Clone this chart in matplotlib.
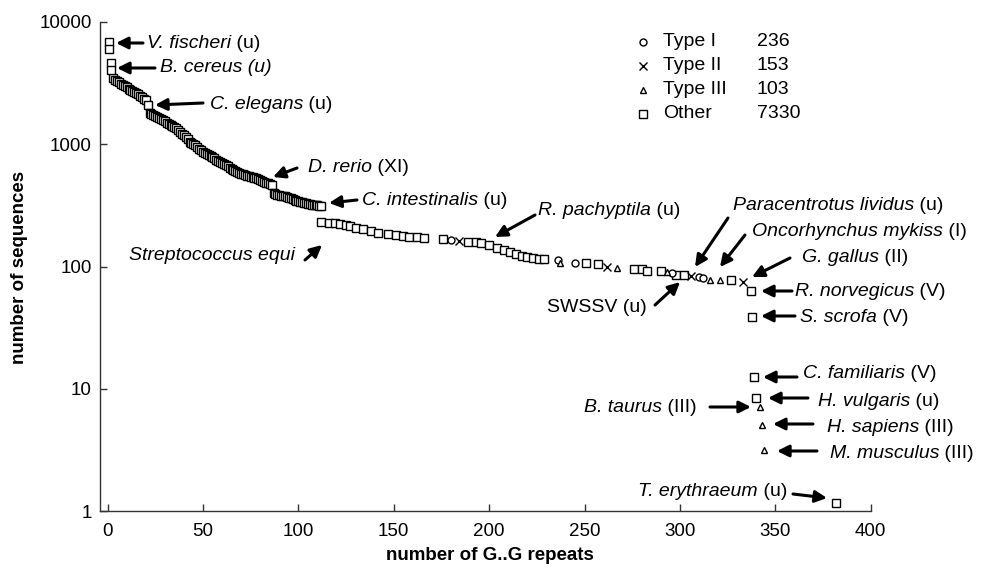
# G..G repeat counts per sequence, log-scaled frequency plot
import matplotlib
matplotlib.use("Agg")
import matplotlib.pyplot as plt
from matplotlib.lines import Line2D

plt.rcParams['font.family'] = ['Liberation Sans', 'DejaVu Sans']

W, H = 987, 571

# "Other" (squares): dense run from 3 to 112 repeats
other_dense_x = list(range(3, 113))
other_dense_y = [3460, 3380, 3300, 3220, 3130, 3050, 2990, 2920, 2850, 2790,
                 2740, 2670, 2610, 2560, 2490, 2420, 2350, 2300, 2090, 1800,
                 1760, 1730, 1700, 1660, 1630, 1600, 1580, 1540, 1500, 1470,
                 1440, 1410, 1380, 1350, 1310, 1270, 1220, 1180, 1140, 1100,
                 1050, 1020, 1000, 980, 950, 920, 895, 870, 850, 835,
                 815, 800, 785, 770, 750, 735, 720, 705, 690, 675,
                 660, 645, 630, 615, 600, 592, 584, 576, 568, 561,
                 554, 547, 540, 535, 530, 526, 518, 510, 502, 494,
                 486, 478, 471, 464, 397, 392, 388, 384, 380, 377,
                 374, 372, 366, 360, 355, 350, 346, 342, 339, 335,
                 331, 328, 325, 322, 320, 318, 317, 316, 315, 313]

# "Other" (squares): sparse points
other_x = [1, 1, 2, 2,
           112, 116, 119, 122, 125, 127, 130, 134, 138, 142, 147, 151, 155, 158, 162, 166,
           176, 189, 193, 196, 200, 204, 208, 211, 214, 217, 220, 223, 226, 229,
           251, 257, 276, 280, 283, 290, 298, 302, 327,
           337, 338, 339, 340, 382]
other_y = [6900, 6000, 4590, 4050,
           233, 227, 225, 222, 219, 213, 208, 201, 195, 188, 184, 181, 178, 175, 173, 170,
           167, 160, 158, 156, 150, 142, 137, 132, 127, 122, 119, 117, 116, 115,
           107, 104, 95.5, 95, 92.5, 92.5, 85.2, 85, 77.6,
           63, 38.8, 12.4, 8.35, 1.17]

type1_x = [180, 236, 245, 296, 310, 312]
type1_y = [165, 113, 107, 88, 81.6, 80]

type2_x = [184, 262, 306, 333]
type2_y = [163, 99.5, 83.6, 75]

type3_x = [237, 267, 293, 316, 321, 342, 343, 344]
type3_y = [107, 97, 89.7, 77.6, 77, 7.05, 5.05, 3.15]

legend_names = ['Type I', 'Type II', 'Type III', 'Other']
legend_counts = ['236', '153', '103', '7330']

# annotations: italic part, plain part, text pos (px), alignment, arrow tail, arrow tip
notes = [
    ('V. fischeri', ' (u)', (147, 43), 'left', (143, 43), (116, 43)),
    ('B. cereus (u)', '', (160, 68), 'left', (155, 68), (117, 68)),
    ('C. elegans', ' (u)', (210, 104), 'left', (203, 103), (155, 105)),
    ('D. rerio', ' (XI)', (308, 167), 'left', (297, 168), (273, 177)),
    ('C. intestinalis', ' (u)', (362, 200), 'left', (357, 200), (329, 203)),
    ('Streptococcus equi', '', (295, 256), 'right', (305, 260), (322, 245)),
    ('R. pachyptila', ' (u)', (538, 211), 'left', (535, 215), (495, 237)),
    ('Paracentrotus lividus', ' (u)', (733, 205), 'left', (728, 218), (695, 267)),
    ('Oncorhynchus mykiss', ' (I)', (752, 231), 'left', (745, 235), (720, 267)),
    ('G. gallus', ' (II)', (802, 258), 'left', (790, 258), (752, 277)),
    ('R. norvegicus', ' (V)', (795, 291), 'left', (792, 291), (761, 291)),
    ('S. scrofa', ' (V)', (800, 318), 'left', (795, 316), (761, 316)),
    ('', 'SWSSV (u)', (647, 308), 'right', (655, 305), (680, 282)),
    ('C. familiaris', ' (V)', (803, 373), 'left', (797, 377), (763, 377)),
    ('H. vulgaris', ' (u)', (818, 402), 'left', (808, 398), (768, 398)),
    ('B. taurus', ' (III)', (697, 407), 'right', (710, 407), (751, 407)),
    ('H. sapiens', ' (III)', (827, 427), 'left', (813, 424), (773, 424)),
    ('M. musculus', ' (III)', (830, 453), 'left', (817, 451), (777, 451)),
    ('T. erythraeum', ' (u)', (787, 492), 'right', (793, 494), (827, 498)),
]

fig = plt.figure(figsize=(W / 100, H / 100), dpi=100)
ax = fig.add_axes([100.3 / W, 1 - 511 / H, 770.4 / W, 489 / H])
renderer = fig.canvas.get_renderer()

sq = dict(marker='s', ms=6, mfc='white', mec='black', mew=1.0, ls='none')
ax.plot(other_dense_x, other_dense_y, **sq)
ax.plot(other_x, other_y, **sq)
ax.plot(type1_x, type1_y, marker='o', ms=5, mfc='white', mec='black', mew=1.0, ls='none')
ax.plot(type2_x, type2_y, marker='x', ms=5.5, mec='black', mew=1.0, ls='none')
ax.plot(type3_x, type3_y, marker='^', ms=5, mfc='white', mec='black', mew=1.0, ls='none')

ax.set_yscale('log')
ax.set_xlim(-3.8, 400)
ax.set_ylim(1, 10000)
ax.set_xticks([0, 50, 100, 150, 200, 250, 300, 350, 400])
ax.set_yticks([1, 10, 100, 1000, 10000])
ax.set_yticklabels(['1', '10', '100', '1000', '10000'])
ax.yaxis.set_minor_locator(matplotlib.ticker.NullLocator())
ax.tick_params(direction='in', length=5, width=1, labelsize=13.5, color='#333333', pad=6)
ax.tick_params(axis='x', pad=9)
for s in ['top', 'right']:
    ax.spines[s].set_visible(False)
for s in ['left', 'bottom']:
    ax.spines[s].set_color('#333333')
    ax.spines[s].set_linewidth(1)

fig.text(20 / W, 1 - 267 / H, 'number of sequences', rotation=90, ha='center', va='center',
         fontsize=13.5, fontweight='bold')
fig.text(490 / W, 1 - 555 / H, 'number of G..G repeats', ha='center', va='center',
         fontsize=13.5, fontweight='bold')

# annotations: italic species name followed by upright type in brackets
for ital, plain, (tx, ty), ha, tail, tip in notes:
    y = 1 - ty / H
    if ha == 'left':
        t = fig.text(tx / W, y, ital, ha='left', va='center', fontsize=14, fontstyle='italic')
        w = t.get_window_extent(renderer).width if ital else 0
        fig.text((tx + w) / W, y, plain, ha='left', va='center', fontsize=14)
    else:
        t = fig.text(tx / W, y, plain, ha='right', va='center', fontsize=14)
        w = t.get_window_extent(renderer).width if plain else 0
        fig.text((tx - w) / W, y, ital, ha='right', va='center', fontsize=14, fontstyle='italic')
    ax.annotate('', xy=(tip[0], H - tip[1]), xytext=(tail[0], H - tail[1]),
                xycoords='figure pixels', textcoords='figure pixels',
                arrowprops=dict(arrowstyle='-|>,head_length=0.7,head_width=0.35',
                                lw=2.2, color='black', shrinkA=0, shrinkB=0))

# legend block
leg_markers = [dict(marker='o', ms=5, mfc='white'), dict(marker='x', ms=5.5),
               dict(marker='^', ms=5, mfc='white'), dict(marker='s', ms=5.5, mfc='white')]
for i, (name, cnt) in enumerate(zip(legend_names, legend_counts)):
    y = 1 - (42 + 24 * i) / H
    fig.add_artist(Line2D([643 / W], [y], mec='black', mew=1.0, ls='none',
                          transform=fig.transFigure, **leg_markers[i]))
    fig.text(663 / W, y, name, ha='left', va='center', fontsize=14)
    fig.text(757 / W, y, cnt, ha='left', va='center', fontsize=14)

fig.savefig('out.png', dpi=100)
